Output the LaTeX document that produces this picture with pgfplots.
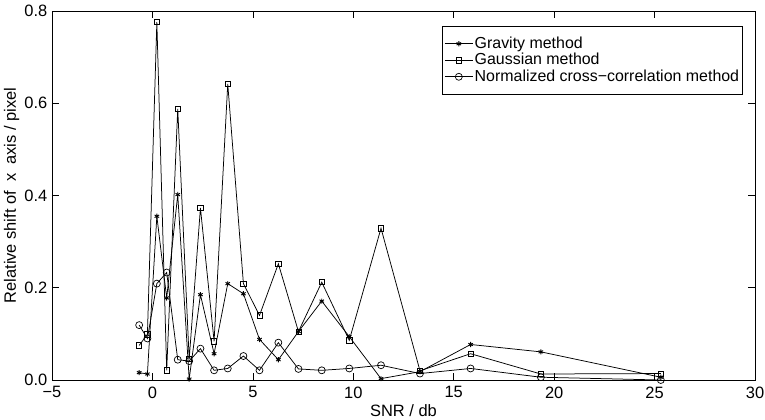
\documentclass[border=0pt]{standalone}
\usepackage{fontspec}
\setmainfont{Liberation Sans}
\usepackage{pgfplots}
\pgfplotsset{compat=1.18}
\usepackage{pgfplotstable}

\pgfplotstableread{
x g ga n
-0.66 0.016 0.075 0.119
-0.25 0.013 0.099 0.090
0.22 0.355 0.776 0.209
0.71 0.178 0.021 0.233
1.26 0.402 0.588 0.044
1.83 0.002 0.045 0.041
2.39 0.185 0.373 0.068
3.07 0.057 0.084 0.021
3.75 0.209 0.642 0.025
4.53 0.187 0.209 0.052
5.33 0.088 0.140 0.021
6.27 0.044 0.252 0.081
7.27 0.105 0.105 0.024
8.43 0.171 0.212 0.021
9.80 0.094 0.086 0.025
11.38 0.003 0.329 0.032
13.32 0.018 0.020 0.014
15.84 0.077 0.057 0.025
19.34 0.061 0.013 0.006
25.31 0.006 0.014 0.000
}\datatab

\begin{document}
\fontsize{16.5}{18}\selectfont
\begin{tikzpicture}
\useasboundingbox (-52bp,-40bp) rectangle (713bp,380bp);
\begin{axis}[
  at={(0,0)}, anchor=south west,
  width=703bp, height=369bp, scale only axis,
  xmin=-5, xmax=30, ymin=0, ymax=0.8,
  xtick={-5,0,5,10,15,20,25,30},
  xticklabels={−5,0,5,10,15,20,25,30},
  ytick={0,0.2,0.4,0.6,0.8},
  yticklabels={0.0,0.2,0.4,0.6,0.8},
  tick align=inside,
  major tick length=7bp,
  tick style={black, line width=0.6bp},
  axis line style={line width=0.8bp},
  tick label style={font=\fontsize{16.5}{18}\selectfont},
  xticklabel style={yshift=-1bp},
  yticklabel style={xshift=1bp},
  label style={font=\fontsize{16.5}{18}\selectfont},
  xlabel={SNR / db},
  ylabel={Relative shift of~~x~~axis / pixel},
  xlabel style={yshift=5bp},
  ylabel style={yshift=-6bp},
  every axis plot/.append style={black, line width=0.75bp},
  legend style={at={(0.983,0.959)}, anchor=north east,
    draw=black, line width=0.8bp,
    font=\fontsize{16}{17}\selectfont,
    inner xsep=2bp, inner ysep=9bp, row sep=0bp,
    cells={anchor=west},
    nodes={inner xsep=1.5bp, inner ysep=0.5bp, text height=12bp, text depth=3.5bp}},
  legend image code/.code={\draw[mark repeat=2,mark phase=2] plot coordinates {(0bp,0bp)(14bp,0bp)(28bp,0bp)};},
]
\addplot[mark=asterisk, mark size=2.6bp, mark options={line width=0.9bp}] table[x=x,y=g] {\datatab};
\addlegendentry{Gravity method}
\addplot[mark=square, mark size=2.6bp, mark options={line width=0.7bp}] table[x=x,y=ga] {\datatab};
\addlegendentry{Gaussian method}
\addplot[mark=o, mark size=3.5bp, mark options={line width=0.7bp}] table[x=x,y=n] {\datatab};
\addlegendentry{Normalized cross−correlation method}
\end{axis}
\end{tikzpicture}
\end{document}
